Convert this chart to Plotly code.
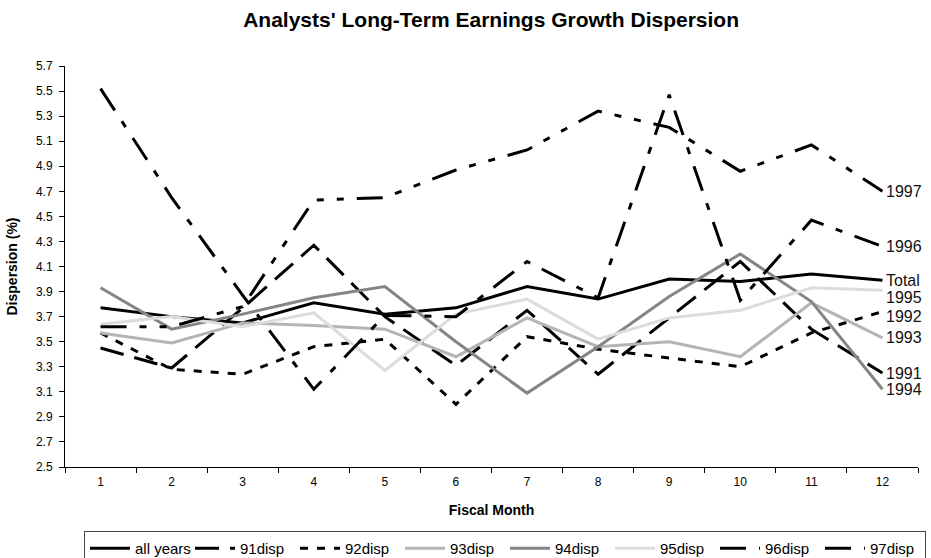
import plotly.graph_objects as go

months = list(range(1, 13))
all_years = [3.77, 3.70, 3.65, 3.81, 3.72, 3.77, 3.94, 3.84, 4.00, 3.98, 4.04, 3.99]
d91 = [3.45, 3.29, 3.77, 4.27, 3.70, 3.31, 3.75, 3.24, 3.69, 4.14, 3.60, 3.25]
d92 = [3.57, 3.28, 3.24, 3.46, 3.52, 3.00, 3.54, 3.44, 3.37, 3.30, 3.57, 3.74]
d93 = [3.57, 3.49, 3.65, 3.63, 3.60, 3.38, 3.69, 3.46, 3.50, 3.38, 3.81, 3.53]
d94 = [3.93, 3.60, 3.72, 3.85, 3.94, 3.50, 3.09, 3.46, 3.86, 4.20, 3.82, 3.12]
d95 = [3.64, 3.70, 3.62, 3.73, 3.27, 3.72, 3.84, 3.52, 3.69, 3.75, 3.93, 3.91]
d96 = [5.52, 4.65, 3.87, 3.12, 3.71, 3.70, 4.14, 3.85, 5.47, 3.83, 4.47, 4.26]
d97 = [3.62, 3.62, 3.78, 4.63, 4.65, 4.87, 5.03, 5.34, 5.21, 4.86, 5.07, 4.70]

series_names = ["all years", "91disp", "92disp", "93disp", "94disp", "95disp", "96disp", "97disp"]
series_values = [all_years, d91, d92, d93, d94, d95, d96, d97]
end_labels = ["Total", "1991", "1992", "1993", "1994", "1995", "1996", "1997"]
y_ticks = [round(2.5 + 0.2 * i, 1) for i in range(17)]

styles = {
    "all years": dict(color="black", width=3, dash="solid"),
    "91disp": dict(color="black", width=3, dash="24px,11px"),
    "92disp": dict(color="black", width=3, dash="8px,9px"),
    "93disp": dict(color="#b4b4b4", width=3, dash="solid"),
    "94disp": dict(color="#858585", width=3, dash="solid"),
    "95disp": dict(color="#dcdcdc", width=3, dash="solid"),
    "96disp": dict(color="black", width=3, dash="26px,13px,7px,13px"),
    "97disp": dict(color="black", width=3, dash="26px,13px,7px,13px,7px,13px"),
}
label_shift = {"1995": -7, "1992": -5}

FONT = "Arial, Liberation Sans, sans-serif"

fig = go.Figure()
for name, vals in zip(series_names, series_values):
    fig.add_trace(go.Scatter(x=months, y=vals, mode="lines", name=name,
                             line=styles[name]))

for lab, vals in zip(end_labels, series_values):
    fig.add_annotation(x=months[-1], y=vals[-1], text=lab, showarrow=False,
                       xanchor="left", yanchor="middle", xshift=2,
                       yshift=label_shift.get(lab, 0),
                       font=dict(size=16, color="#111111", family=FONT))

fig.update_layout(
    template="none",
    width=931, height=558,
    margin=dict(l=65, r=13, t=66, b=91, autoexpand=False),
    paper_bgcolor="white", plot_bgcolor="white",
    font=dict(family=FONT, size=12, color="black"),
    title=dict(text="<b>Analysts' Long-Term Earnings Growth Dispersion</b>",
               x=0.5275, xanchor="center", xref="container",
               y=0.964, yanchor="middle", yref="container",
               font=dict(size=21, color="black")),
    showlegend=True,
    legend=dict(orientation="h", xref="container", x=84 / 931, xanchor="left",
                yref="container", y=1 - 531 / 558, yanchor="top",
                bordercolor="#444444", borderwidth=1, bgcolor="white",
                font=dict(size=15), entrywidth=50, entrywidthmode="pixels",
                itemwidth=40, tracegroupgap=0),
)
fig.update_xaxes(range=[0.5, 12.5], tickvals=months, ticktext=[str(m) for m in months],
                 ticks="", showgrid=False, zeroline=False, showline=True,
                 linecolor="black", linewidth=1, automargin=False,
                 ticklabelstandoff=4,
                 minor=dict(ticks="outside", tick0=0.5, dtick=1, ticklen=5,
                            tickcolor="black", showgrid=False),
                 title=dict(text="<b>Fiscal Month</b>", font=dict(size=14), standoff=16),
                 tickfont=dict(size=12))
fig.update_yaxes(range=[2.5, 5.7], tickvals=y_ticks, ticktext=[f"{v:.1f}" for v in y_ticks],
                 ticks="outside", ticklen=5, tickcolor="black", showgrid=False,
                 zeroline=False, showline=True, linecolor="black", linewidth=1,
                 automargin=False, ticklabelstandoff=4,
                 title=dict(text="<b>Dispersion (%)</b>", font=dict(size=14), standoff=15),
                 tickfont=dict(size=12))

fig.write_html("out.html", config={"displayModeBar": False},
               post_script="document.body.style.margin='0px';")
